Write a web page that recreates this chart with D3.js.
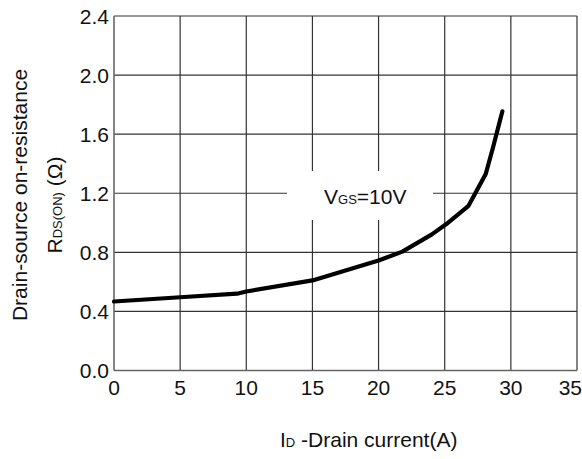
<!DOCTYPE html>
<html>
<head>
<meta charset="utf-8">
<script src="https://cdn.jsdelivr.net/npm/d3@7"></script>
<style>
  html, body { margin: 0; padding: 0; background: #fff; }
  svg { display: block; font-family: "Liberation Sans", Arial, sans-serif; }
</style>
</head>
<body>
<svg id="chart" width="582" height="459"></svg>
<script>
const xTicks = [0, 5, 10, 15, 20, 25, 30, 35];
const yTicks = [0.0, 0.4, 0.8, 1.2, 1.6, 2.0, 2.4];
const currentA = [0, 5, 9.3, 10, 15, 20, 21.8, 24.0, 25.1, 26.8, 28.1, 28.65, 29.36];
const resistanceOhm = [0.467, 0.496, 0.52, 0.535, 0.61, 0.745, 0.805, 0.92, 0.99, 1.115, 1.33, 1.51, 1.755];

(function () {
const svg = d3.select("#chart");
const pLeft = 114, pRight = 577, pTop = 16, pBottom = 370.5;
const x = d3.scaleLinear().domain([0, 35]).range([pLeft, pRight]);
const y = d3.scaleLinear().domain([0, 2.4]).range([pBottom, pTop]);

// grid
const grid = svg.append("g");
grid.selectAll("line.v").data(xTicks.slice(1)).enter().append("line")
  .attr("x1", d => x(d)).attr("x2", d => x(d))
  .attr("y1", pTop).attr("y2", pBottom)
  .attr("stroke", "#333").attr("stroke-width", 1.2);
grid.selectAll("line.h").data(yTicks.slice(1)).enter().append("line")
  .attr("x1", pLeft).attr("x2", pRight)
  .attr("y1", d => y(d)).attr("y2", d => y(d))
  .attr("stroke", "#333").attr("stroke-width", 1.2);

// left and bottom axis lines
svg.append("line").attr("x1", pLeft).attr("x2", pLeft).attr("y1", pTop).attr("y2", pBottom)
  .attr("stroke", "#666").attr("stroke-width", 1.6);
svg.append("line").attr("x1", pLeft).attr("x2", pRight).attr("y1", pBottom).attr("y2", pBottom)
  .attr("stroke", "#666").attr("stroke-width", 1.6);

// tick labels
svg.append("g").selectAll("text").data(yTicks).enter().append("text")
  .attr("x", 109).attr("y", d => y(d) + 7.5)
  .attr("text-anchor", "end").attr("font-size", 21).attr("fill", "#111")
  .text(d => d.toFixed(1));
svg.append("g").selectAll("text").data(xTicks).enter().append("text")
  .attr("x", (d, i) => i === xTicks.length - 1 ? 582 : x(d)).attr("y", 395)
  .attr("text-anchor", (d, i) => i === xTicks.length - 1 ? "end" : "middle")
  .attr("font-size", 21).attr("fill", "#111")
  .text(d => d);

// label box
svg.append("rect").attr("x", 287).attr("y", 171).attr("width", 146).attr("height", 49).attr("fill", "#fff");
const lab = svg.append("text").attr("x", 324).attr("y", 203.5).attr("font-size", 21).attr("fill", "#111");
lab.append("tspan").text("V");
lab.append("tspan").attr("font-size", 13).text("GS");
lab.append("tspan").text("=10V");

// curve
const line = d3.line().x((d, i) => x(currentA[i])).y(d => y(d)).curve(d3.curveLinear);
svg.append("path").datum(resistanceOhm)
  .attr("d", line).attr("fill", "none").attr("stroke", "#000")
  .attr("stroke-width", 4.2).attr("stroke-linecap", "round").attr("stroke-linejoin", "round");

// y title
svg.append("text").attr("transform", "translate(27,195) rotate(-90)")
  .attr("text-anchor", "middle").attr("font-size", 21).attr("fill", "#111")
  .text("Drain-source on-resistance");
const yt2 = svg.append("text").attr("transform", "translate(62,205) rotate(-90)")
  .attr("text-anchor", "middle").attr("font-size", 21).attr("fill", "#111");
yt2.append("tspan").text("R");
yt2.append("tspan").attr("font-size", 13).text("DS(ON)");
yt2.append("tspan").text(" (Ω)");

// x title
const xt = svg.append("text").attr("x", 280).attr("y", 447).attr("font-size", 21).attr("fill", "#111");
xt.append("tspan").text("I");
xt.append("tspan").attr("font-size", 13).text("D");
xt.append("tspan").text(" -Drain current(A)");
})();
</script>
</body>
</html>
